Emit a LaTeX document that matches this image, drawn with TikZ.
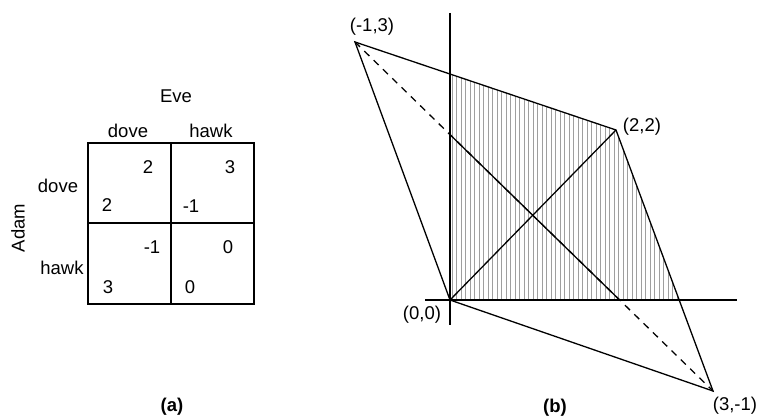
\documentclass[tikz,border=0pt]{standalone}
\usepackage{fontspec}
\setmainfont{Liberation Sans}
\usetikzlibrary{calc}
\begin{document}
\begin{tikzpicture}[x=1pt,y=-1pt,
  lbl/.style={inner sep=0pt,font=\fontsize{18.5}{22}\selectfont},
  captxt/.style={inner sep=0pt,font=\fontsize{18.5}{22}\selectfont\bfseries},
  gridline/.style={line width=1.3pt},
  edgeline/.style={line width=1.3pt},
  axisline/.style={line width=1.3pt},
  hatchline/.style={gray!75,line width=0.7pt}]
\useasboundingbox (0,0) rectangle (760,417);
% ---------- (a) payoff matrix ----------
\coordinate (m1) at (88,143);
\coordinate (m2) at (254,304);
\draw[gridline] (m1) rectangle (m2);
\coordinate (vt) at (171,143);
\coordinate (vb) at (171,304);
\coordinate (hl) at (88,223);
\coordinate (hr) at (254,223);
\draw[gridline] (vt) -- (vb);
\draw[gridline] (hl) -- (hr);
\node[lbl] (eve) at (176,96) {Eve};
\node[lbl] (cdove) at (128,131) {dove};
\node[lbl] (chawk) at (211,131) {hawk};
\node[lbl] (rdove) at (58,186) {dove};
\node[lbl] (rhawk) at (62,268) {hawk};
\node[lbl,rotate=90] (adam) at (18,228) {Adam};
\node[lbl] (n11e) at (148,167) {2};
\node[lbl] (n11a) at (107,205) {2};
\node[lbl] (n12e) at (230,167) {3};
\node[lbl] (n12a) at (191,206) {-1};
\node[lbl] (n21e) at (152,247) {-1};
\node[lbl] (n21a) at (108,287) {3};
\node[lbl] (n22e) at (228,247) {0};
\node[lbl] (n22a) at (190,287) {0};
\node[captxt] (capa) at (172,407) {(a)};
% ---------- (b) payoff region ----------
\coordinate (A) at (355,42);
\coordinate (O) at (450,300);
\coordinate (B) at (616,130);
\coordinate (C) at (713,391);
\coordinate (P1) at (450,74);
\coordinate (P2) at (679,300);
\coordinate (D1) at (450,134.6);
\coordinate (D2) at (619.6,300);
\coordinate (vaxt) at (450,13);
\coordinate (vaxb) at (450,325);
\coordinate (haxl) at (425,300);
\coordinate (haxr) at (737,300);
\begin{scope}
  \clip (O) -- (P1) -- (B) -- (P2) -- cycle;
  \foreach \x in {452,456.5,...,682} {
    \draw[hatchline] (\x,60) -- (\x,300);
  }
\end{scope}
\draw[axisline] (vaxt) -- (vaxb);
\draw[axisline] (haxl) -- (haxr);
\draw[edgeline,line join=miter] (A) -- (B) -- (C) -- (O) -- cycle;
\draw[edgeline] (O) -- (B);
\draw[edgeline,dash pattern=on 7pt off 6pt] (A) -- (C);
\draw[edgeline] (D1) -- (D2);
\node[lbl] (lA) at (372,27) {(-1,3)};
\node[lbl] (lB) at (642,127) {(2,2)};
\node[lbl] (lO) at (422,315) {(0,0)};
\node[lbl] (lC) at (735,406) {(3,-1)};
\node[captxt] (capb) at (555,408) {(b)};
\end{tikzpicture}
\end{document}
